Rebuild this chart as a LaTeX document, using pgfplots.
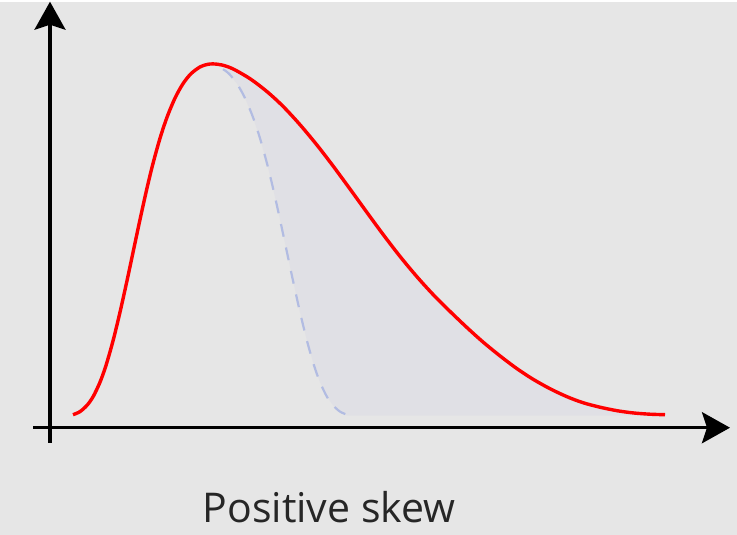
\documentclass[border=0pt]{standalone}
\usepackage{pgfplots}
\pgfplotsset{compat=1.18}
\usepackage{fontspec}
\setmainfont{Open Sans}
\usetikzlibrary{arrows.meta}
\definecolor{bg}{RGB}{230,230,230}
\definecolor{shade}{RGB}{224,224,229}
\definecolor{dashblue}{RGB}{178,188,226}
\definecolor{curvered}{RGB}{255,0,0}
\begin{document}
\begin{tikzpicture}
\begin{axis}[scale only axis,width=737bp,height=533bp,
  xmin=0,xmax=737,ymin=0,ymax=533,y dir=reverse,hide axis,clip=false]
\fill[bg] (axis cs:0,0) rectangle (axis cs:737,533);
% shaded tail region
\addplot[fill=shade,draw=none] coordinates {
 (223,67.5)(229,72)(237,82)(245,96.4)(253,115.6)(260,136.6)(267,161.8)(273,186.4)
 (280,217.9)(287,250.8)(293,279)(300,310.5)(307,339.2)(314,363.7)(320,380.5)
 (327,395.2)(333,403.6)(340,409.9)(347,414)
 (665,414)(650,412.5)(633,411.2)(617,409)(600,405.5)(583,401)(567,395)(550,387)
 (533,377.5)(517,367)(500,354.2)(483,340.3)(467,325.9)(450,309.7)(433,292.7)
 (417,275.1)(400,254.7)(383,232.6)(367,210.8)(350,187.3)(333,164.2)(317,143.4)
 (300,123)(283,104.6)(267,89.9)(250,77)(233,67.2)} -- cycle;
% mirrored left half
\addplot[dashblue,line width=2.2bp,dash pattern=on 13bp off 11bp,smooth] coordinates {
 (223,67.5)(229,72)(237,82)(245,96.4)(253,115.6)(260,136.6)(267,161.8)(273,186.4)
 (280,217.9)(287,250.8)(293,279)(300,310.5)(307,339.2)(314,363.7)(320,380.5)
 (327,395.2)(333,403.6)(340,409.9)(347,413)};
% skewed density
\addplot[curvered,line width=3.4bp,smooth] coordinates {
 (73,413)(80,409.9)(87,403.6)(93,395.2)(100,380.5)(106,363.7)(113,339.2)(120,310.5)
 (127,279)(133,250.8)(140,217.9)(147,186.4)(153,161.8)(160,136.6)(167,115.6)
 (175,96.4)(183,82)(191,72)(200,65.25)(207,62.8)(213,62.2)(222,63.3)(233,67.2)
 (250,77)(267,89.9)(283,104.6)(300,123)(317,143.4)(333,164.2)(350,187.3)
 (367,210.8)(383,232.6)(400,254.7)(417,275.1)(433,292.7)(450,309.7)(467,325.9)
 (483,340.3)(500,354.2)(517,367)(533,377.5)(550,387)(567,395)(583,401)
 (600,405.5)(617,409)(633,411.2)(650,412.5)(665,413)};
\draw[line width=3.4bp,-{Stealth[length=28bp,width=31bp,inset=5bp]}] (axis cs:50,441) -- (axis cs:50,0);
\draw[line width=3.4bp,-{Stealth[length=28bp,width=31bp,inset=5bp]}] (axis cs:33,426) -- (axis cs:730,426);
\node[anchor=base,font=\fontsize{41bp}{48bp}\selectfont,text=black!85] at (axis cs:329,521) {Positive skew};
\end{axis}
\end{tikzpicture}
\end{document}
